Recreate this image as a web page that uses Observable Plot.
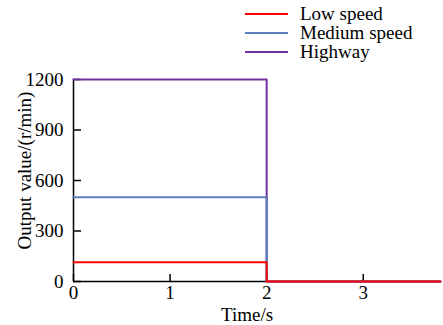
<!DOCTYPE html>
<html><head><meta charset="utf-8">
<script src="https://cdn.jsdelivr.net/npm/d3@7"></script>
<script src="https://cdn.jsdelivr.net/npm/@observablehq/plot@0.6"></script>
<style>
body{margin:0;background:#fff;}
#wrap{position:relative;width:443px;height:325px;font-family:'Liberation Serif','DejaVu Serif',serif;}
#legend{position:absolute;left:245px;top:4px;font-size:19px;line-height:19px;}
.item{display:flex;align-items:center;height:19px;}
.sw{width:43px;height:2px;margin-right:12px;}
svg, svg text{font-family:'Liberation Serif','DejaVu Serif',serif !important;}
</style></head>
<body><div id="wrap"><div id="legend"></div></div>
<script>
const seriesNames = ["Highway", "Medium speed", "Low speed"];
const legendOrder = ["Low speed", "Medium speed", "Highway"];
const colors = {"Low speed": "#ff0000", "Medium speed": "#5b7fbd", "Highway": "#7030a0"};
const times = [0, 2, 2, 3.8];
const highway = [1200, 1200, 0, 0];
const medium = [500, 500, 0, 0];
const low = [115, 115, 0, 0];
const xTicks = [0, 1, 2, 3];
const yTicks = [0, 300, 600, 900, 1200];

const values = {"Highway": highway, "Medium speed": medium, "Low speed": low};
const data = seriesNames.flatMap(s => times.map((t, i) => ({series: s, t, v: values[s][i]})));

const chart = Plot.plot({
  width: 443, height: 325,
  marginLeft: 73, marginRight: 3, marginTop: 79, marginBottom: 44,
  style: {fontSize: "19px", color: "#000", background: "transparent"},
  x: {domain: [0, 3.8]},
  y: {domain: [0, 1200]},
  marks: [
    Plot.axisY(yTicks, {tickSize: 0, tickPadding: 10, label: null, fontSize: 19, tickFormat: d => String(d)}),
    Plot.axisY(yTicks, {text: null, tickSize: 8, dx: 8, strokeWidth: 1.5, label: null}),
    Plot.axisX(xTicks, {tickSize: 0, tickPadding: 4, label: null, fontSize: 19, tickFormat: d => String(d)}),
    Plot.axisX(xTicks, {text: null, tickSize: 7, anchor: "bottom", dy: -7, strokeWidth: 1.5, label: null}),
    Plot.ruleX([0], {stroke: "#000", strokeWidth: 1.5}),
    Plot.ruleY([0], {stroke: "#000", strokeWidth: 1.5}),
    Plot.line(data, {x: "t", y: "v", z: "series", stroke: d => colors[d.series], strokeWidth: 2, curve: "linear"}),
    Plot.text(["Time/s"], {frameAnchor: "bottom", textAnchor: "middle", dy: 39, dx: -10, fontSize: 19}),
    Plot.text(["Output value/(r/min)"], {frameAnchor: "left", textAnchor: "middle", dx: -49, dy: -10, rotate: -90, fontSize: 19})
  ]
});
document.getElementById("wrap").appendChild(chart);
const leg = document.getElementById("legend");
for (const s of legendOrder) {
  const it = document.createElement("div"); it.className = "item";
  const sw = document.createElement("div"); sw.className = "sw"; sw.style.background = colors[s];
  const tx = document.createElement("span"); tx.textContent = s;
  it.appendChild(sw); it.appendChild(tx); leg.appendChild(it);
}
</script></body></html>
